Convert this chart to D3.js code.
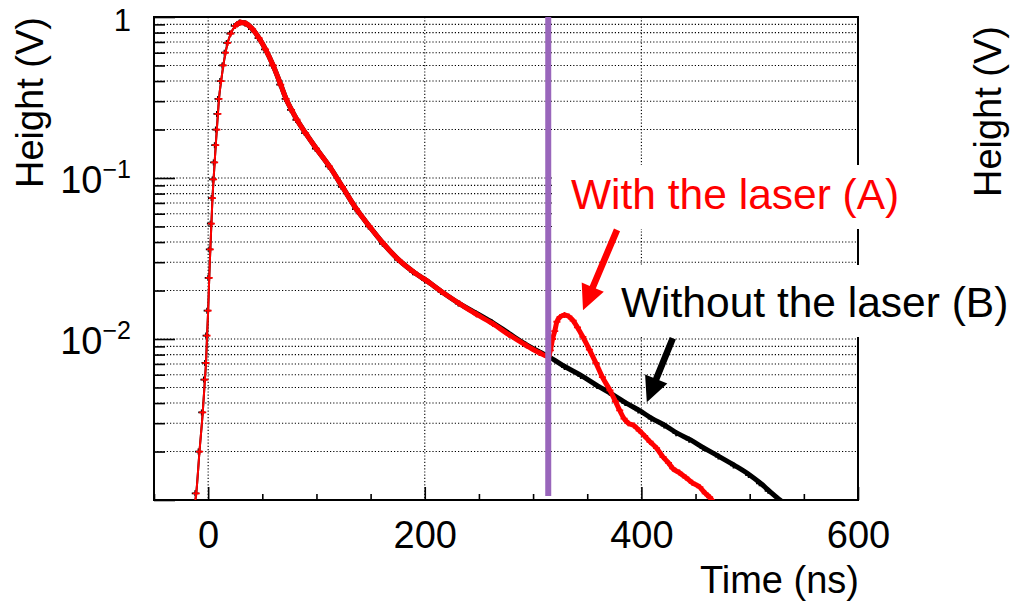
<!DOCTYPE html>
<html>
<head>
<meta charset="utf-8">
<script src="https://cdn.jsdelivr.net/npm/d3@7"></script>
<style>
  html, body { margin: 0; padding: 0; background: #fff; }
  svg { display: block; font-family: "Liberation Sans", Arial, Helvetica, sans-serif; }
</style>
</head>
<body>
<svg id="chart" width="1010" height="603"></svg>
<script>
// ---------------- data ----------------
const xDomain = [-50, 600];
const yDomain = [0.001, 1];
const xMajorTicks = [0, 200, 400, 600];
const xMinorTicks = [-50, 50, 100, 150, 250, 300, 350, 450, 500, 550];
const xGridValues = [0, 200, 400];
const yMajorTicks = [0.001, 0.01, 0.1, 1];
const yTickLabels = [
  { v: 1, base: "1", sup: "" },
  { v: 0.1, base: "10", sup: "\u22121" },
  { v: 0.01, base: "10", sup: "\u22122" }
];
const yMinorTicks = [2,3,4,5,6,7,8,9].flatMap(m => [m * 0.001, m * 0.01, m * 0.1]);

// shared pulse (both measurements identical before the laser)
const commonTime = [-13, -11, -8, -5, -3, -2, -1, 0, 1, 2, 3, 4, 5, 6, 7, 8, 9, 10, 12, 14, 16, 18, 21, 25, 30,
  35, 41, 47, 53, 60, 67, 72, 77, 82, 90, 100, 112, 124, 137, 149, 162, 176, 190, 201, 216, 232];
const commonValue = [0.0009, 0.0011, 0.002, 0.0035, 0.0056, 0.0071, 0.0105, 0.015, 0.024, 0.036, 0.052, 0.075, 0.098,
  0.125, 0.16, 0.20, 0.25, 0.31, 0.40, 0.50, 0.60, 0.69, 0.79, 0.88, 0.925,
  0.91, 0.84, 0.74, 0.63, 0.50, 0.38, 0.31, 0.265, 0.23, 0.19, 0.152, 0.118, 0.088, 0.064, 0.050, 0.039, 0.031, 0.026, 0.0232, 0.0196, 0.0166];

// Without the laser (B): black
const noLaserTailTime  = [248, 263, 278, 294, 306, 314, 330, 345, 360, 374, 386, 398, 410, 422, 433, 445, 458, 472, 486, 500, 510, 518, 528, 533];
const noLaserTailValue = [0.0144, 0.0126, 0.0108, 0.0092, 0.0083, 0.0078, 0.0067, 0.0059, 0.0051, 0.0045, 0.0040, 0.0036, 0.0032, 0.0029, 0.0026, 0.00237, 0.0021, 0.00186, 0.00164, 0.00143, 0.00127, 0.00114, 0.0010, 0.00095];

// With the laser (A): red
const laserTailTime  = [248, 263, 278, 294, 306, 314, 316, 318, 320, 322, 325, 329, 333, 337, 341, 346, 352, 358, 364, 371, 376, 380, 384, 388, 393, 398, 403, 408, 414, 420, 425, 429, 435, 441, 447, 454, 459, 463, 467];
const laserTailValue = [0.0142, 0.0124, 0.0106, 0.0091, 0.0082, 0.0078, 0.0085, 0.0100, 0.0112, 0.0128, 0.0137, 0.0141, 0.0138, 0.0130, 0.0118, 0.0103, 0.0086, 0.0071, 0.0058, 0.0048, 0.0041, 0.0036, 0.0032, 0.0030, 0.0029, 0.0027, 0.0025, 0.0023, 0.0021, 0.00185, 0.0017, 0.00157, 0.00148, 0.00138, 0.00128, 0.0012, 0.0011, 0.00104, 0.00096];

const laserTime = 314;

// annotations (data coordinates)
const redArrow   = { from: [377.5, 0.0476], to: [346.1, 0.0151] };
const blackArrow = { from: [429, 0.0101],   to: [405, 0.00405] };

// ---------------- chart ----------------
const svg = d3.select("#chart");
const L = 154, R = 858, T = 17, B = 500;
const x = d3.scaleLinear().domain(xDomain).range([L, R]);
const y = d3.scaleLog().domain(yDomain).range([B, T]);
const FONT = 38;

// clip
svg.append("defs").append("clipPath").attr("id", "plotclip")
  .append("rect").attr("x", L).attr("y", T).attr("width", R - L).attr("height", B - T);

// grid
const grid = svg.append("g").attr("stroke", "#000").attr("stroke-width", 1.1).attr("stroke-dasharray", "1.2,2");
grid.selectAll("line.h").data(yMinorTicks.concat([0.01, 0.1])).join("line")
  .attr("x1", L).attr("x2", R).attr("y1", d => y(d)).attr("y2", d => y(d));
grid.selectAll("line.v").data(xGridValues).join("line")
  .attr("x1", d => x(d)).attr("x2", d => x(d)).attr("y1", T).attr("y2", B);

// axes ticks
const axX1 = svg.append("g").attr("transform", `translate(0,${B})`)
  .call(d3.axisBottom(x).tickValues(xMajorTicks).tickSize(-13).tickPadding(21).tickFormat(d3.format("d")));
const axX2 = svg.append("g").attr("transform", `translate(0,${B})`)
  .call(d3.axisBottom(x).tickValues(xMinorTicks).tickSize(-6).tickFormat(""));
const axY1 = svg.append("g").attr("transform", `translate(${L},0)`)
  .call(d3.axisLeft(y).tickValues(yMajorTicks).tickSize(-21).tickFormat(""));
const axY2 = svg.append("g").attr("transform", `translate(${L},0)`)
  .call(d3.axisLeft(y).tickValues(yMinorTicks).tickSize(-11).tickFormat(""));
[axX1, axX2, axY1, axY2].forEach(g => {
  g.select(".domain").remove();
  g.selectAll(".tick line").attr("stroke", "#000").attr("stroke-width", 1.6);
});
axX1.selectAll(".tick text").attr("font-size", FONT).attr("fill", "#000")
  .attr("font-family", "Liberation Sans, Arial, sans-serif");

// y tick labels
const yl = svg.append("g").attr("text-anchor", "end").attr("fill", "#000");
yTickLabels.forEach(t => {
  const tx = yl.append("text").attr("x", 131).attr("y", t.sup ? y(t.v) + 15 : y(t.v) + 14)
    .attr("font-size", t.sup ? FONT : 31);
  tx.append("tspan").text(t.base);
  if (t.sup) tx.append("tspan").attr("font-size", 25).attr("dy", -15).text(t.sup);
});

// frame
svg.append("rect").attr("x", L).attr("y", T).attr("width", R - L).attr("height", B - T)
  .attr("fill", "none").attr("stroke", "#000").attr("stroke-width", 2);

// white label boxes
svg.append("rect").attr("x", 552).attr("y", 165).attr("width", 365).attr("height", 64).attr("fill", "#fff");
svg.append("rect").attr("x", 582).attr("y", 265).attr("width", 430).attr("height", 72).attr("fill", "#fff");

// series
function series(times, values) { return times.map((t, i) => ({ t, v: values[i] })); }
const black = series(commonTime.concat(noLaserTailTime), commonValue.concat(noLaserTailValue));
const red = series(commonTime.concat(laserTailTime), commonValue.concat(laserTailValue));

const line = d3.line().x(d => x(d.t)).y(d => y(d.v)).curve(d3.curveMonotoneX);
const plot = svg.append("g").attr("clip-path", "url(#plotclip)");

function drawSeries(data, color, off) {
  const g = plot.append("g");
  const rising = data.filter(d => d.t <= 30);
  const falling = data.filter(d => d.t >= 25);
  g.append("path").datum(rising).attr("d", line).attr("fill", "none").attr("stroke", color).attr("stroke-width", 2);
  g.append("path").datum(falling).attr("d", line).attr("fill", "none").attr("stroke", color)
    .attr("stroke-width", 5).attr("stroke-linejoin", "round");
  g.selectAll("path.m").data(data).join("path")
    .attr("d", d => {
      const cx = x(d.t) + off, cy = y(d.v);
      return `M${cx - 3.5},${cy}H${cx + 3.5}M${cx},${cy - 3}V${cy + 3}`;
    })
    .attr("stroke", color).attr("stroke-width", 1.8).attr("fill", "none");
}
drawSeries(black, "#000", -1);
drawSeries(red, "#ff0000", 0);

// laser line
svg.append("line").attr("x1", x(laserTime)).attr("x2", x(laserTime))
  .attr("y1", y(yDomain[1])).attr("y2", y(yDomain[0]) - 4)
  .attr("stroke", "#9966bb").attr("stroke-width", 6);

// axis titles
svg.append("text").attr("transform", `translate(43,17) rotate(-90)`).attr("text-anchor", "end")
  .attr("font-size", FONT).attr("fill", "#000").text("Height (V)");
svg.append("text").attr("transform", `translate(1001,26) rotate(-90)`).attr("text-anchor", "end")
  .attr("font-size", FONT).attr("fill", "#000").text("Height (V)");
svg.append("text").attr("x", 859).attr("y", 593).attr("text-anchor", "end")
  .attr("font-size", FONT).attr("fill", "#000").text("Time (ns)");

// annotations
svg.append("text").attr("x", 571).attr("y", 209).attr("font-size", 42.5).attr("fill", "#ff0000").text("With the laser (A)");
svg.append("text").attr("x", 621).attr("y", 317).attr("font-size", 42.5).attr("fill", "#000").text("Without the laser (B)");

function arrow(a, color) {
  const x0 = x(a.from[0]), y0 = y(a.from[1]), x1 = x(a.to[0]), y1 = y(a.to[1]);
  const dx = x1 - x0, dy = y1 - y0, len = Math.hypot(dx, dy);
  const ux = dx / len, uy = dy / len, px = -uy, py = ux;
  const sw = 3.3, hl = 25, hw = 12;
  const bx = x1 - ux * hl, by = y1 - uy * hl;
  const pts = [
    [x0 + px * sw, y0 + py * sw], [bx + px * sw, by + py * sw], [bx + px * hw, by + py * hw],
    [x1, y1], [bx - px * hw, by - py * hw], [bx - px * sw, by - py * sw], [x0 - px * sw, y0 - py * sw]
  ];
  svg.append("polygon").attr("points", pts.map(p => p.join(",")).join(" ")).attr("fill", color);
}
arrow(redArrow, "#ff0000");
arrow(blackArrow, "#000");
</script>
</body>
</html>
